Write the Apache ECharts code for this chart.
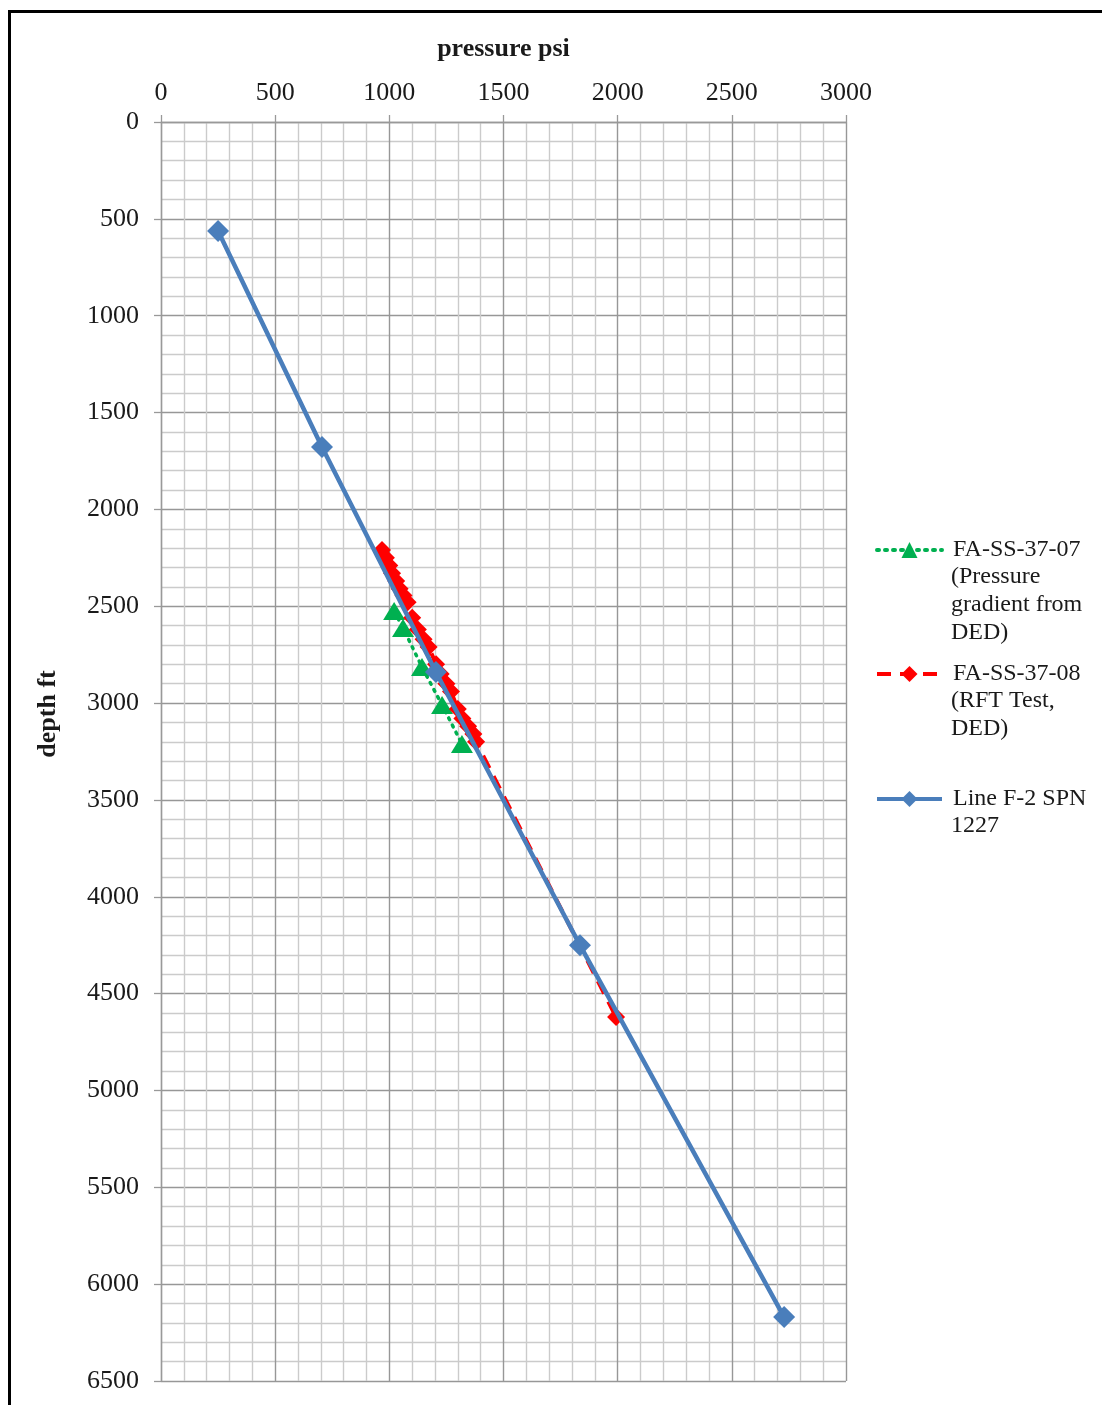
<!DOCTYPE html>
<html>
<head>
<meta charset="utf-8">
<script src="https://cdn.jsdelivr.net/npm/echarts@6/dist/echarts.min.js"></script>
<style>
html,body{margin:0;padding:0;background:#fff;overflow:hidden;}
#chart{width:1102px;height:1405px;}
</style>
</head>
<body>
<div id="chart"></div>
<script>
// ---- data ----
var xTicks = [0, 500, 1000, 1500, 2000, 2500, 3000];
var yTicks = [0, 500, 1000, 1500, 2000, 2500, 3000, 3500, 4000, 4500, 5000, 5500, 6000, 6500];

var greenName = 'FA-SS-37-07';
var greenNameRest = ['(Pressure', 'gradient from', 'DED)'];
var greenPressure = [1021, 1060, 1143, 1231, 1318];
var greenDepth    = [2525, 2612, 2814, 3010, 3211];

var redName = 'FA-SS-37-08';
var redNameRest = ['(RFT Test,', 'DED)'];
var redPressure = [968, 985, 1000, 1012, 1030, 1045, 1062, 1080, 1100, 1125, 1150, 1172, 1205, 1225, 1250, 1270, 1300, 1320, 1345, 1368, 1380, 1993];
var redDepth    = [2210, 2250, 2290, 2330, 2370, 2410, 2445, 2480, 2560, 2620, 2670, 2710, 2800, 2850, 2900, 2940, 3030, 3080, 3120, 3160, 3200, 4621];

var blueName = 'Line F-2 SPN';
var blueNameRest = ['1227'];
var bluePressure = [250, 705, 1204, 1835, 2729];
var blueDepth    = [563, 1678, 2840, 4250, 6170];

function pairs(xs, ys) { return xs.map(function (v, i) { return [v, ys[i]]; }); }

var FONT = 'Liberation Serif';
var TXT = '#1a1a1a';

var chart = echarts.init(document.getElementById('chart'), null, {renderer: 'canvas'});

function restText(lines, y0) {
  return lines.map(function (t, i) {
    return {
      type: 'text', x: 951, y: y0 + i * 28,
      style: {text: t, font: '24px "' + FONT + '"', fill: TXT, textAlign: 'left', textVerticalAlign: 'middle'}
    };
  });
}

function legendFor(name, center) {
  return {
    data: [name], orient: 'vertical', left: 875, top: center - 12, padding: 0,
    itemWidth: 65, itemHeight: 20,
    lineStyle: {width: 4},
    textStyle: {fontFamily: FONT, fontSize: 24, color: TXT, padding: [0, 0, 0, 6]},
    selectedMode: false
  };
}

function plain(v) { return String(v); }

var option = {
  animation: false,
  backgroundColor: '#ffffff',
  grid: {left: 161, top: 122, width: 685, height: 1259, containLabel: false},
  xAxis: {
    type: 'value', position: 'top', min: 0, max: 3000, interval: 500,
    name: 'pressure psi', nameLocation: 'middle', nameGap: 60,
    nameTextStyle: {fontFamily: FONT, fontSize: 26, fontWeight: 'bold', color: TXT},
    axisLine: {show: true, lineStyle: {color: '#999999', width: 1.3}},
    axisTick: {show: true, length: 7, lineStyle: {color: '#999999', width: 1.3}},
    axisLabel: {fontFamily: FONT, fontSize: 26, color: TXT, margin: 16, formatter: plain},
    splitLine: {show: true, lineStyle: {color: '#979797', width: 1.4}},
    minorTick: {show: false, splitNumber: 5},
    minorSplitLine: {show: true, lineStyle: {color: '#cbcbcb', width: 1.4}}
  },
  yAxis: {
    type: 'value', inverse: true, min: 0, max: 6500, interval: 500,
    axisLine: {show: true, lineStyle: {color: '#999999', width: 1.3}},
    axisTick: {show: true, length: 7, lineStyle: {color: '#999999', width: 1.3}},
    axisLabel: {fontFamily: FONT, fontSize: 26, color: TXT, margin: 22, formatter: plain},
    splitLine: {show: true, lineStyle: {color: '#979797', width: 1.4}},
    minorTick: {show: false, splitNumber: 5},
    minorSplitLine: {show: true, lineStyle: {color: '#cbcbcb', width: 1.4}}
  },
  legend: [legendFor(greenName, 550), legendFor(redName, 674), legendFor(blueName, 799)],
  series: [
    {
      name: greenName, type: 'line', data: pairs(greenPressure, greenDepth),
      symbol: 'triangle', symbolSize: [22, 18],
      itemStyle: {color: '#00b050'},
      lineStyle: {color: '#00b050', width: 3.5, type: [2, 6], cap: 'round'},
      z: 2
    },
    {
      name: redName, type: 'line', data: pairs(redPressure, redDepth),
      symbol: 'diamond', symbolSize: 18,
      itemStyle: {color: '#ff0000'},
      lineStyle: {color: '#ff0000', width: 4, type: [14, 9]},
      z: 3
    },
    {
      name: blueName, type: 'line', data: pairs(bluePressure, blueDepth),
      symbol: 'diamond', symbolSize: 22,
      itemStyle: {color: '#4a7ebb'},
      lineStyle: {color: '#4a7ebb', width: 4.5},
      z: 4
    }
  ],
  graphic: [
    {type: 'rect', silent: true, z: 100,
     shape: {x: 9.5, y: 11.5, width: 1300, height: 1600},
     style: {fill: 'none', stroke: '#000', lineWidth: 3}},
    {type: 'text', x: 48, y: 714, rotation: Math.PI / 2,
     style: {text: 'depth ft', font: 'bold 26px "' + FONT + '"', fill: TXT,
             textAlign: 'center', textVerticalAlign: 'middle'}}
  ].concat(restText(greenNameRest, 577), restText(redNameRest, 701), restText(blueNameRest, 826))
};
chart.setOption(option);
</script>
</body>
</html>
